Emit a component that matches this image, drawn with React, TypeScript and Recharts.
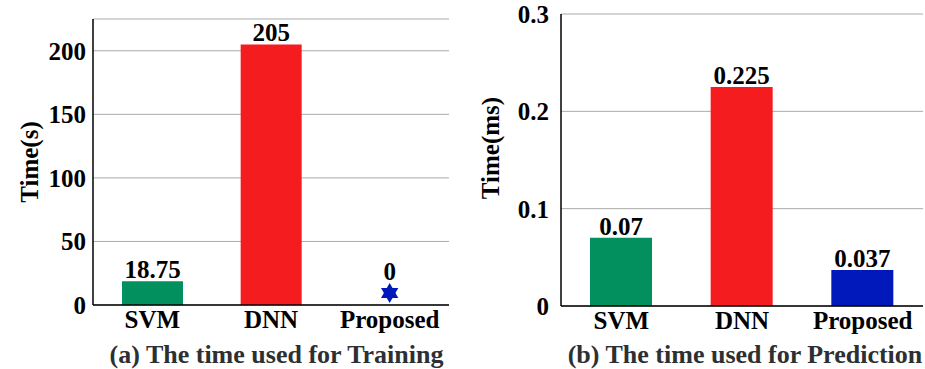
import { ComposedChart, Bar, Scatter, XAxis, YAxis, CartesianGrid, LabelList, Label, Cell } from "recharts"

const categories = ["SVM", "DNN", "Proposed"]
const trainingTime = [18.75, 205, 0]
// the Proposed method is shown with a star marker instead of a bar
const trainingMarker: (number | null)[] = [null, null, 9.5]
const predictionTime = [0.07, 0.225, 0.037]
const trainingTicks = [0, 50, 100, 150, 200]
const predictionTicks = [0, 0.1, 0.2, 0.3]

const barColors = ["#01905E", "#F41C1E", "#0118BA"]
const font = '"Liberation Serif", "Times New Roman", serif'
const tickStyle = { fill: "#000", fontSize: 25, fontWeight: 700, fontFamily: font }

const trainingData = categories.map((name, i) => ({
  name,
  value: trainingTime[i],
  marker: trainingMarker[i]
}))
const predictionData = categories.map((name, i) => ({ name, value: predictionTime[i] }))

const valueLabel = (skipZero: boolean) => (props: any) => {
  const { x, y, width, value } = props
  if (skipZero && value === 0) return null
  return (
    <text x={x + width / 2} y={y - 3} textAnchor="middle" fontFamily={font} fontWeight={700} fontSize={25} fill="#000">
      {value}
    </text>
  )
}

function StarMarker(props: any) {
  const { cx, cy, payload } = props
  if (payload.marker == null || !Number.isFinite(cx) || !Number.isFinite(cy)) return null
  const r = 10
  const tri = (rot: number) =>
    [0, 1, 2]
      .map(k => {
        const a = rot + (k * 2 * Math.PI) / 3
        return `${cx + r * Math.sin(a)},${cy - r * Math.cos(a)}`
      })
      .join(" ")
  return (
    <g>
      <polygon points={tri(0)} fill="#0118BA" />
      <polygon points={tri(Math.PI)} fill="#0118BA" />
      <text x={cx} y={cy - r - 3} textAnchor="middle" fontFamily={font} fontWeight={700} fontSize={25} fill="#000">
        {payload.value}
      </text>
    </g>
  )
}

const captionStyle = {
  position: "absolute" as const,
  top: 340,
  height: 30,
  lineHeight: "30px",
  textAlign: "center" as const,
  fontFamily: font,
  fontWeight: 700,
  fontSize: 26,
  color: "#2d3033",
  whiteSpace: "nowrap" as const
}

export default function App() {
  return (
    <div style={{ position: "absolute", left: 0, top: 0, width: 925, height: 369, background: "#fff" }}>
      <div style={{ position: "absolute", left: 0, top: 0 }}>
        <ComposedChart width={460} height={369} data={trainingData} margin={{ top: 19, right: 11, left: 0, bottom: 0 }}>
          <CartesianGrid vertical={false} stroke="#aaaaaa" strokeWidth={1} />
          <XAxis
            dataKey="name"
            height={64}
            tickLine={false}
            tickSize={0}
            tickMargin={5}
            axisLine={{ stroke: "#000", strokeWidth: 1.5 }}
            tick={tickStyle}
            interval={0}
          />
          <XAxis xAxisId="top" dataKey="name" orientation="top" height={0} tick={false} tickLine={false} axisLine={{ stroke: "#000", strokeWidth: 1.5 }} />
          <YAxis
            width={93}
            domain={[0, 225]}
            ticks={trainingTicks}
            tickLine={false}
            tickSize={0}
            tickMargin={7}
            axisLine={{ stroke: "#000", strokeWidth: 1.5 }}
            tick={tickStyle}
          >
            <Label
              value="Time(s)"
              angle={-90}
              position="insideLeft"
              offset={29}
              style={{ textAnchor: "middle", fontSize: 25, fontWeight: 700, fontFamily: font, fill: "#000" }}
            />
          </YAxis>
          <YAxis yAxisId="right" orientation="right" width={0} domain={[0, 225]} tick={false} tickLine={false} axisLine={{ stroke: "#000", strokeWidth: 1.5 }} />
          <Bar dataKey="value" barSize={61} isAnimationActive={false}>
            {trainingData.map((_, i) => (
              <Cell key={i} fill={barColors[i]} />
            ))}
            <LabelList dataKey="value" content={valueLabel(true)} />
          </Bar>
          <Scatter dataKey="marker" shape={<StarMarker />} isAnimationActive={false} />
        </ComposedChart>
      </div>
      <div style={{ position: "absolute", left: 460, top: 0 }}>
        <ComposedChart width={465} height={369} data={predictionData} margin={{ top: 14, right: 2, left: 0, bottom: 0 }}>
          <CartesianGrid vertical={false} stroke="#aaaaaa" strokeWidth={1} />
          <XAxis
            dataKey="name"
            height={63}
            tickLine={false}
            tickSize={0}
            tickMargin={5}
            axisLine={{ stroke: "#000", strokeWidth: 1.5 }}
            tick={tickStyle}
            interval={0}
          />
          <XAxis xAxisId="top" dataKey="name" orientation="top" height={0} tick={false} tickLine={false} axisLine={{ stroke: "#000", strokeWidth: 1.5 }} />
          <YAxis
            width={101}
            domain={[0, 0.3]}
            ticks={predictionTicks}
            tickFormatter={(v: number) => String(Math.round(v * 10) / 10)}
            tickLine={false}
            tickSize={0}
            tickMargin={12}
            axisLine={{ stroke: "#000", strokeWidth: 1.5 }}
            tick={tickStyle}
          >
            <Label
              value="Time(ms)"
              angle={-90}
              position="insideLeft"
              offset={30}
              dy={-12}
              style={{ textAnchor: "middle", fontSize: 25, fontWeight: 700, fontFamily: font, fill: "#000" }}
            />
          </YAxis>
          <YAxis yAxisId="right" orientation="right" width={0} domain={[0, 0.3]} tick={false} tickLine={false} axisLine={{ stroke: "#000", strokeWidth: 1.5 }} />
          <Bar dataKey="value" barSize={62} isAnimationActive={false}>
            {predictionData.map((_, i) => (
              <Cell key={i} fill={barColors[i]} />
            ))}
            <LabelList dataKey="value" content={valueLabel(false)} />
          </Bar>
        </ComposedChart>
      </div>
      <div style={{ ...captionStyle, left: 0, width: 553 }}>(a) The time used for Training</div>
      <div style={{ ...captionStyle, left: 565, width: 360 }}>(b) The time used for Prediction</div>
    </div>
  )
}
